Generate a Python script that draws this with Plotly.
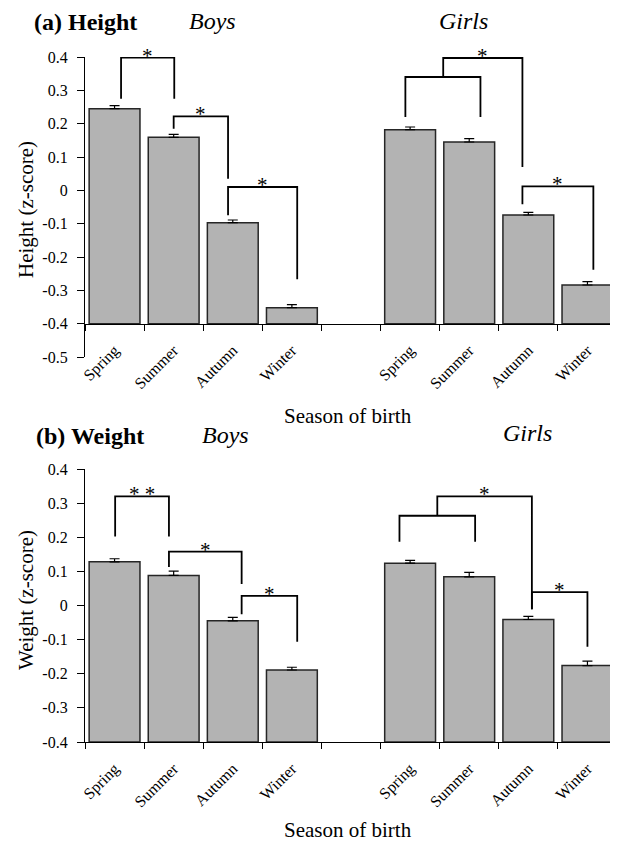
import plotly.graph_objects as go

# ---------------- data ----------------
seasons = ["Spring", "Summer", "Autumn", "Winter"]
groups = ["Boys", "Girls"]

boys_height = [0.245, 0.159, -0.097, -0.352]
boys_height_err = [0.009, 0.009, 0.008, 0.009]
girls_height = [0.182, 0.145, -0.074, -0.284]
girls_height_err = [0.008, 0.010, 0.008, 0.010]

boys_weight = [0.128, 0.088, -0.045, -0.189]
boys_weight_err = [0.009, 0.013, 0.010, 0.008]
girls_weight = [0.124, 0.084, -0.041, -0.176]
girls_weight_err = [0.008, 0.013, 0.009, 0.013]

height_tickvals = [0.4, 0.3, 0.2, 0.1, 0, -0.1, -0.2, -0.3, -0.4, -0.5]
height_ticktext = ["0.4", "0.3", "0.2", "0.1", "0", "-0.1", "-0.2", "-0.3", "-0.4", "-0.5"]
weight_tickvals = [0.4, 0.3, 0.2, 0.1, 0, -0.1, -0.2, -0.3, -0.4]
weight_ticktext = ["0.4", "0.3", "0.2", "0.1", "0", "-0.1", "-0.2", "-0.3", "-0.4"]

# significance brackets: (x_left, x_right, y_top, y_left_end, y_right_end, label)
height_brackets = [
    (0.61, 1.51, 0.398, 0.275, 0.275, "*"),
    (1.50, 2.42, 0.222, 0.185, 0.035, "*"),
    (2.42, 3.59, 0.010, -0.075, -0.267, "*"),
    (5.42, 6.69, 0.340, 0.220, 0.220, ""),
    (6.06, 7.40, 0.397, 0.340, 0.070, "*"),
    (7.40, 8.60, 0.012, -0.042, -0.238, "*"),
]
weight_brackets = [
    (0.51, 1.42, 0.320, 0.202, 0.202, "* *"),
    (1.42, 2.65, 0.158, 0.113, 0.063, "*"),
    (2.65, 3.59, 0.028, -0.026, -0.106, "*"),
    (5.32, 6.60, 0.263, 0.187, 0.187, ""),
    (5.96, 7.56, 0.320, 0.263, -0.011, "*"),
    (7.56, 8.50, 0.039, -0.011, -0.121, "*"),
]

# ---------------- layout helpers ----------------
# the page body has an 8px default margin, so the figure is drawn 8px smaller
OFF = 8
W, H = 618 - OFF, 843 - OFF
ML, MR, MT, MB = 85 - OFF, 1, 57 - OFF, 101
PW, PH = W - ML - MR, H - MT - MB
FONT = "Liberation Serif, Times New Roman, serif"
BAR_FILL = "#b3b3b3"
BAR_LINE = "#262626"


def px_x(p):  # reference pixel -> paper x
    return (p - 85) / PW


def px_y(p):  # reference pixel -> paper y
    return (742 - p) / PH


dom_a = [px_y(357), 1.0]
dom_b = [0.0, px_y(469)]
ya_range = [-0.5, 0.4]
yb_range = [-0.4, 0.4]
xa_pos = dom_a[0] + (-0.4 - ya_range[0]) / (ya_range[1] - ya_range[0]) * (dom_a[1] - dom_a[0])

fig = go.Figure()


def add_panel(boys, boys_err, girls, girls_err, base, xref, yref):
    for g_idx, (vals, errs) in enumerate([(boys, boys_err), (girls, girls_err)]):
        xs = [i + 0.5 + 5 * g_idx for i in range(len(vals))]
        fig.add_trace(go.Bar(
            x=xs, y=[v - base for v in vals], base=base, width=0.86,
            marker=dict(color=BAR_FILL, line=dict(color=BAR_LINE, width=1.5)),
            xaxis=xref, yaxis=yref, showlegend=False, name=groups[g_idx],
        ))
        fig.add_trace(go.Scatter(
            x=xs, y=vals, mode="markers",
            marker=dict(size=1, color="rgba(0,0,0,0)"),
            error_y=dict(type="data", symmetric=False, array=errs,
                         arrayminus=[0] * len(errs), color="black",
                         thickness=1.2, width=5),
            xaxis=xref, yaxis=yref, showlegend=False, hoverinfo="skip",
        ))


add_panel(boys_height, boys_height_err, girls_height, girls_height_err, -0.4, "x", "y")
add_panel(boys_weight, boys_weight_err, girls_weight, girls_weight_err, -0.4, "x2", "y2")

shapes = []
annotations = []


def add_brackets(brackets, xref, yref):
    for x0, x1, top, y0e, y1e, lab in brackets:
        shapes.append(dict(
            type="path", xref=xref, yref=yref,
            path=f"M {x0},{y0e} L {x0},{top} L {x1},{top} L {x1},{y1e}",
            line=dict(color="black", width=1.8),
        ))
        if lab:
            annotations.append(dict(
                x=(x0 + x1) / 2, y=top, xref=xref, yref=yref, text=lab,
                showarrow=False, yanchor="middle", yshift=2,
                font=dict(family=FONT, size=21, color="black"),
            ))


add_brackets(height_brackets, "x", "y")
add_brackets(weight_brackets, "x2", "y2")


def text_ann(txt, x, y, size, angle=0):
    annotations.append(dict(
        x=px_x(x), y=px_y(y), xref="paper", yref="paper", text=txt,
        showarrow=False, xanchor="center", yanchor="middle", textangle=angle,
        font=dict(family=FONT, size=size, color="black"),
    ))


text_ann("<b>(a) Height</b>", 85, 22, 24)
text_ann("<i>Boys</i>", 212, 21, 24)
text_ann("<i>Girls</i>", 463, 21, 24)
text_ann("Height (z-score)", 26, 210, 21, -90)
text_ann("Season of birth", 348, 416, 21)
text_ann("<b>(b) Weight</b>", 90, 436, 24)
text_ann("<i>Boys</i>", 225, 435, 24)
text_ann("<i>Girls</i>", 527, 433, 24)
text_ann("Weight (z-score)", 26, 600, 21, -90)
text_ann("Season of birth", 348, 830, 21)

cat_vals = [i + 0.5 for i in range(4)] + [i + 5.5 for i in range(4)]
cat_text = seasons + seasons

xaxis_common = dict(
    range=[0, 9], tickmode="array", tickvals=cat_vals, ticktext=cat_text,
    tickangle=-45, ticks="outside", ticklen=6, tickcolor="rgba(0,0,0,0)",
    tickfont=dict(family=FONT, size=16, color="black"),
    showline=True, linecolor="black", linewidth=1.2, showgrid=False,
    zeroline=False, ticklabelstandoff=4,
    minor=dict(tickmode="array", tickvals=list(range(10)), ticks="outside",
               ticklen=6, tickcolor="black", tickwidth=1.2, showgrid=False),
    fixedrange=True,
)
yaxis_common = dict(
    ticks="outside", ticklen=7, tickcolor="black", tickwidth=1,
    tickfont=dict(family=FONT, size=16, color="black"),
    showline=True, linecolor="black", linewidth=1.2, showgrid=False,
    zeroline=False, ticklabelstandoff=6, tickmode="array",
)

fig.update_layout(
    width=W, height=H,
    margin=dict(l=ML, r=MR, t=MT, b=MB),
    paper_bgcolor="white", plot_bgcolor="white",
    font=dict(family=FONT, color="black"),
    showlegend=False,
    xaxis=dict(**xaxis_common, anchor="free", position=xa_pos, domain=[0, 1]),
    yaxis=dict(**yaxis_common, range=ya_range, domain=dom_a, anchor="x",
               tickvals=height_tickvals, ticktext=height_ticktext),
    xaxis2=dict(**xaxis_common, anchor="y2", domain=[0, 1]),
    yaxis2=dict(**yaxis_common, range=yb_range, domain=dom_b, anchor="x2",
                tickvals=weight_tickvals, ticktext=weight_ticktext),
    shapes=shapes,
    annotations=annotations,
    bargap=0.14,
)

fig.write_html("out.html")
